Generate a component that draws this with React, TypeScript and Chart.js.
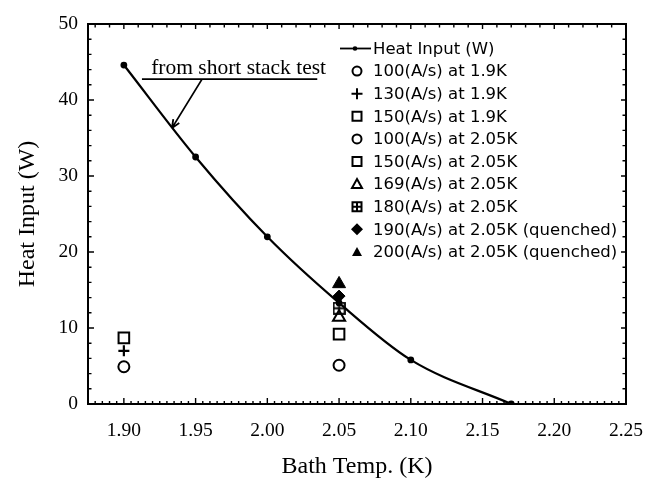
import React, { useEffect, useRef } from 'react';
import { Chart, registerables } from 'chart.js';

Chart.register(...registerables);

// ---- data ----
const curveTemp = [1.9, 1.95, 2.0, 2.05, 2.1, 2.17];
const curveHeat = [44.6, 32.5, 22.0, 13.3, 5.8, 0];
const curveLabel = 'Heat Input (W)';

const seriesLabels = [
  '100(A/s) at 1.9K',
  '130(A/s) at 1.9K',
  '150(A/s) at 1.9K',
  '100(A/s) at 2.05K',
  '150(A/s) at 2.05K',
  '169(A/s) at 2.05K',
  '180(A/s) at 2.05K',
  '190(A/s) at 2.05K (quenched)',
  '200(A/s) at 2.05K (quenched)',
];
const seriesTemp = [1.9, 1.9, 1.9, 2.05, 2.05, 2.05, 2.05, 2.05, 2.05];
const seriesHeat = [4.9, 7.0, 8.7, 5.1, 9.2, 11.4, 12.6, 14.2, 15.8];
const seriesMarker = ['circle', 'cross', 'rect', 'circle', 'rect', 'triangle', 'boxplus', 'diamond', 'filledTriangle'];

const xTicks = [1.9, 1.95, 2.0, 2.05, 2.1, 2.15, 2.2, 2.25];
const yTicks = [0, 10, 20, 30, 40, 50];

const annotationText = 'from short stack test';
const annotationTip = { x: 1.9335, y: 36.3 };
const annotationTail = { x: 1.9545, y: 42.75 };
const annotationUnderline = { x1: 1.9126, x2: 2.0348, y: 42.75 };
const annotationTextPos = { x: 1.919, y: 43.4 };

const SERIF = '"Liberation Serif", "Times New Roman", serif';
const SANS = '"DejaVu Sans", sans-serif';

function makeBoxPlus(): HTMLCanvasElement {
  const c = document.createElement('canvas');
  c.width = 13;
  c.height = 13;
  const g = c.getContext('2d')!;
  g.strokeStyle = '#000';
  g.lineWidth = 1.8;
  g.strokeRect(1, 1, 11, 11);
  g.beginPath();
  g.moveTo(6.5, 1);
  g.lineTo(6.5, 12);
  g.moveTo(1, 6.5);
  g.lineTo(12, 6.5);
  g.stroke();
  return c;
}

function markerStyle(kind: string, boxPlus: HTMLCanvasElement) {
  switch (kind) {
    case 'circle':
      return { pointStyle: 'circle', pointRadius: 5.5, pointBackgroundColor: 'rgba(0,0,0,0)', pointBorderWidth: 2 };
    case 'cross':
      return { pointStyle: 'cross', pointRadius: 5.5, pointBackgroundColor: 'rgba(0,0,0,0)', pointBorderWidth: 2.2 };
    case 'rect':
      return { pointStyle: 'rect', pointRadius: 7.5, pointBackgroundColor: 'rgba(0,0,0,0)', pointBorderWidth: 2 };
    case 'triangle':
      return { pointStyle: 'triangle', pointRadius: 7, pointBackgroundColor: 'rgba(0,0,0,0)', pointBorderWidth: 2 };
    case 'boxplus':
      return { pointStyle: boxPlus, pointRadius: 6, pointBackgroundColor: 'rgba(0,0,0,0)', pointBorderWidth: 1 };
    case 'diamond':
      return { pointStyle: 'rectRot', pointRadius: 6, pointBackgroundColor: '#000', pointBorderWidth: 1 };
    default:
      return { pointStyle: 'triangle', pointRadius: 7.5, pointBackgroundColor: '#000', pointBorderWidth: 1 };
  }
}

function drawLegendMarker(ctx: CanvasRenderingContext2D, kind: string, x: number, y: number) {
  ctx.save();
  ctx.strokeStyle = '#000';
  ctx.fillStyle = '#000';
  ctx.lineWidth = 2;
  ctx.beginPath();
  if (kind === 'circle') {
    ctx.arc(x, y, 4.5, 0, Math.PI * 2);
    ctx.stroke();
  } else if (kind === 'cross') {
    ctx.moveTo(x - 5.5, y);
    ctx.lineTo(x + 5.5, y);
    ctx.moveTo(x, y - 5.5);
    ctx.lineTo(x, y + 5.5);
    ctx.stroke();
  } else if (kind === 'rect') {
    ctx.rect(x - 4.5, y - 4.5, 9, 9);
    ctx.stroke();
  } else if (kind === 'boxplus') {
    ctx.rect(x - 4.5, y - 4.5, 9, 9);
    ctx.moveTo(x, y - 4.5);
    ctx.lineTo(x, y + 4.5);
    ctx.moveTo(x - 4.5, y);
    ctx.lineTo(x + 4.5, y);
    ctx.stroke();
  } else if (kind === 'triangle' || kind === 'filledTriangle') {
    ctx.moveTo(x, y - 5);
    ctx.lineTo(x + 5, y + 4);
    ctx.lineTo(x - 5, y + 4);
    ctx.closePath();
    if (kind === 'filledTriangle') ctx.fill();
    else ctx.stroke();
  } else if (kind === 'diamond') {
    ctx.moveTo(x, y - 6);
    ctx.lineTo(x + 6, y);
    ctx.lineTo(x, y + 6);
    ctx.lineTo(x - 6, y);
    ctx.closePath();
    ctx.fill();
  }
  ctx.restore();
}

const decorPlugin = {
  id: 'decor',
  afterDatasetsDraw(chart: any) {
    const { ctx, chartArea: a, scales } = chart;
    const xs = scales.x;
    const ys = scales.y;
    ctx.save();
    ctx.strokeStyle = '#000';
    // frame
    ctx.lineWidth = 2;
    ctx.strokeRect(a.left, a.top, a.right - a.left, a.bottom - a.top);
    // inward ticks
    ctx.lineWidth = 1.4;
    ctx.beginPath();
    const eps = 1e-9;
    for (let i = 0; ; i++) {
      const v = xs.min + i * 0.005;
      if (v > xs.max + eps) break;
      const px = xs.getPixelForValue(v);
      const major = Math.abs(v * 20 - Math.round(v * 20)) < 1e-6;
      ctx.moveTo(px, a.bottom);
      ctx.lineTo(px, a.bottom - (major ? 6 : 3));
    }
    for (let i = 0; ; i++) {
      const v = 1.88 + i * 0.01;
      if (v > xs.max + eps) break;
      const px = xs.getPixelForValue(v);
      const major = Math.abs(v * 20 - Math.round(v * 20)) < 1e-6;
      ctx.moveTo(px, a.top);
      ctx.lineTo(px, a.top + (major ? 5 : 3.5));
    }
    for (let v = ys.min; v <= ys.max + eps; v += 2) {
      const py = ys.getPixelForValue(v);
      const major = v % 10 === 0;
      ctx.moveTo(a.left, py);
      ctx.lineTo(a.left + (major ? 6 : 3.5), py);
      ctx.moveTo(a.right, py);
      ctx.lineTo(a.right - (major ? 5 : 3.5), py);
    }
    ctx.stroke();

    // annotation
    const tipX = xs.getPixelForValue(annotationTip.x);
    const tipY = ys.getPixelForValue(annotationTip.y);
    const tailX = xs.getPixelForValue(annotationTail.x);
    const tailY = ys.getPixelForValue(annotationTail.y);
    ctx.lineWidth = 1.8;
    ctx.beginPath();
    ctx.moveTo(xs.getPixelForValue(annotationUnderline.x1), ys.getPixelForValue(annotationUnderline.y));
    ctx.lineTo(xs.getPixelForValue(annotationUnderline.x2), ys.getPixelForValue(annotationUnderline.y));
    ctx.moveTo(tailX, tailY);
    ctx.lineTo(tipX, tipY);
    const ang = Math.atan2(tipY - tailY, tipX - tailX);
    const hl = 9;
    ctx.moveTo(tipX, tipY);
    ctx.lineTo(tipX - hl * Math.cos(ang - 0.4), tipY - hl * Math.sin(ang - 0.4));
    ctx.moveTo(tipX, tipY);
    ctx.lineTo(tipX - hl * Math.cos(ang + 0.4), tipY - hl * Math.sin(ang + 0.4));
    ctx.stroke();
    ctx.fillStyle = '#000';
    ctx.font = `21.5px ${SERIF}`;
    ctx.textBaseline = 'alphabetic';
    ctx.textAlign = 'left';
    ctx.fillText(annotationText, xs.getPixelForValue(annotationTextPos.x), ys.getPixelForValue(annotationTextPos.y));

    // legend
    const lx = 357;
    const textX = 373;
    let ly = 48.5;
    const step = 22.6;
    ctx.font = `16.5px ${SANS}`;
    ctx.textBaseline = 'middle';
    ctx.lineWidth = 1.8;
    ctx.beginPath();
    ctx.moveTo(lx - 17, ly);
    ctx.lineTo(lx + 14, ly);
    ctx.stroke();
    ctx.beginPath();
    ctx.arc(lx - 2, ly, 2.3, 0, Math.PI * 2);
    ctx.fill();
    ctx.fillText(curveLabel, textX, ly + 1);
    seriesLabels.forEach((lab, i) => {
      ly += step;
      drawLegendMarker(ctx, seriesMarker[i], lx, ly);
      ctx.fillText(lab, textX, ly + 1);
    });
    ctx.restore();
  },
};

export default function App() {
  const ref = useRef<HTMLCanvasElement>(null);
  useEffect(() => {
    document.body.style.margin = '0';
    const boxPlus = makeBoxPlus();
    const datasets: any[] = [
      {
        type: 'line',
        label: curveLabel,
        data: curveTemp.map((t, i) => ({ x: t, y: curveHeat[i] })),
        borderColor: '#000',
        borderWidth: 2.2,
        pointRadius: 2.3,
        pointBackgroundColor: '#000',
        pointBorderColor: '#000',
        cubicInterpolationMode: 'monotone',
        fill: false,
      },
      ...seriesLabels.map((lab, i) => ({
        type: 'scatter',
        label: lab,
        data: [{ x: seriesTemp[i], y: seriesHeat[i] }],
        borderColor: '#000',
        pointBorderColor: '#000',
        showLine: false,
        ...markerStyle(seriesMarker[i], boxPlus),
      })),
    ];
    const chart = new Chart(ref.current!, {
      type: 'scatter',
      data: { datasets },
      options: {
        animation: false,
        responsive: false,
        devicePixelRatio: 1,
        events: [],
        layout: { padding: { top: 24, right: 20, left: 0, bottom: 0 } },
        plugins: { legend: { display: false }, tooltip: { enabled: false } },
        scales: {
          x: {
            type: 'linear',
            min: 1.875,
            max: 2.25,
            afterBuildTicks: (s: any) => {
              s.ticks = xTicks.map((v) => ({ value: v }));
            },
            afterFit: (s: any) => {
              s.height = 78;
              s.paddingLeft = 0;
              s.paddingRight = 0;
            },
            grid: { display: false, drawTicks: false },
            border: { display: false },
            ticks: {
              padding: 15,
              color: '#000',
              font: { family: SERIF, size: 19.5 },
              maxRotation: 0,
              autoSkip: false,
              callback: (v: any) => Number(v).toFixed(2),
            },
            title: {
              display: true,
              text: 'Bath Temp. (K)',
              color: '#000',
              font: { family: SERIF, size: 24 },
              padding: { top: 0, bottom: 1 },
            },
          },
          y: {
            type: 'linear',
            min: 0,
            max: 50,
            afterBuildTicks: (s: any) => {
              s.ticks = yTicks.map((v) => ({ value: v }));
            },
            afterFit: (s: any) => {
              s.width = 88;
              s.paddingTop = 0;
              s.paddingBottom = 0;
            },
            grid: { display: false, drawTicks: false },
            border: { display: false },
            ticks: {
              padding: 10,
              color: '#000',
              font: { family: SERIF, size: 19.5 },
              callback: (v: any) => String(v),
            },
            title: {
              display: true,
              text: 'Heat Input (W)',
              color: '#000',
              font: { family: SERIF, size: 24 },
              padding: { top: 13, bottom: 0 },
            },
          },
        },
      },
      plugins: [decorPlugin],
    } as any);
    return () => chart.destroy();
  }, []);
  return (
    <div style={{ width: 646, height: 482 }}>
      <canvas ref={ref} width={646} height={482} style={{ display: 'block' }} />
    </div>
  );
}
